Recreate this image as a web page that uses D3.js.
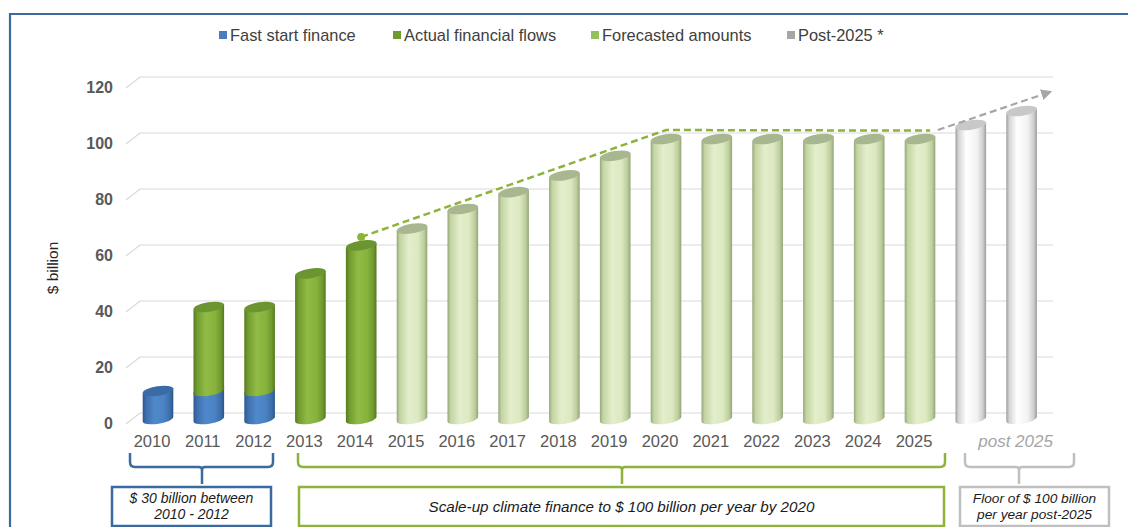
<!DOCTYPE html>
<html>
<head>
<meta charset="utf-8">
<script src="https://cdn.jsdelivr.net/npm/d3@7"></script>
<style>
  html, body { margin: 0; padding: 0; background: #fff; }
  svg { display: block; font-family: "Liberation Sans", Arial, sans-serif; }
</style>
</head>
<body>
<svg id="chart" width="1128" height="527"></svg>
<script>
// Climate finance path, $ billion per year
const categories = ["2010","2011","2012","2013","2014","2015","2016","2017","2018",
                    "2019","2020","2021","2022","2023","2024","2025","post-a","post-b"];
const yearLabels = ["2010","2011","2012","2013","2014","2015","2016","2017",
                    "2018","2019","2020","2021","2022","2023","2024","2025"];
const fastStartFinance = [10,10,10,0,0,0,0,0,0,0,0,0,0,0,0,0,0,0];
const actualFlows      = [0,30,30,52,62,0,0,0,0,0,0,0,0,0,0,0,0,0];
const forecastAmounts  = [0,0,0,0,0,68,75,81,87,94,100,100,100,100,100,100,0,0];
const post2025         = [0,0,0,0,0,0,0,0,0,0,0,0,0,0,0,0,105,110];
const yTicks = [0,20,40,60,80,100,120];
const legendLabels = ["Fast start finance","Actual financial flows","Forecasted amounts","Post-2025 *"];
// dashed trend: [category position, value]
const trendPath = [[4,65],[10,103.2],[15.2,103]];
const postTrendPath = [[15.35,103.2],[17.56,116.8]];

const svg = d3.select("#chart");
const defs = svg.append("defs");

const y = d3.scaleLinear().domain([0,120]).range([419, 83]);
const xPos = d3.scaleLinear().domain([0, categories.length - 1]).range([158, 1021.6]);
const x = d3.scalePoint().domain(categories).range([xPos(0), xPos(categories.length - 1)]);

// frame
svg.append("line").attr("x1",10).attr("x2",1128).attr("y1",14).attr("y2",14)
  .attr("stroke","#3a6a9e").attr("stroke-width",2.2);
svg.append("line").attr("x1",10).attr("x2",10).attr("y1",13).attr("y2",527)
  .attr("stroke","#3a6a9e").attr("stroke-width",2.2);

// gradients for the cylinders
function grad(id, stops) {
  const g = defs.append("linearGradient").attr("id", id)
    .attr("x1","0%").attr("x2","100%").attr("y1","0%").attr("y2","0%");
  stops.forEach(([o,c]) => g.append("stop").attr("offset", o).attr("stop-color", c));
}
grad("gBlue", [["0%","#2c5890"],["12%","#3e70ae"],["40%","#5089cb"],["70%","#4a82c2"],["90%","#3b6da9"],["100%","#2a548a"]]);
grad("gGreen", [["0%","#57791f"],["12%","#729c30"],["40%","#90bc45"],["70%","#87b33d"],["90%","#6f982d"],["100%","#55761e"]]);
grad("gLight", [["0%","#95a67a"],["10%","#c3d4a2"],["40%","#e3eecb"],["70%","#dce9c1"],["90%","#bccd9c"],["100%","#91a276"]]);
grad("gPost", [["0%","#9e9e9e"],["10%","#d4d4d4"],["35%","#ffffff"],["70%","#f2f2f2"],["90%","#cdcdcd"],["100%","#9a9a9a"]]);

// gridlines in 3D style: short diagonal at the front, flat line at the back
const gridG = svg.append("g");
yTicks.forEach(v => {
  const yb = y(v) - 6;
  gridG.append("path")
    .attr("d", `M126,${yb + 11} L140,${yb} L1053,${yb}`)
    .attr("fill","none").attr("stroke","#d9d9d9").attr("stroke-width",1.2);
});

// y axis labels
svg.append("g").selectAll("text").data(yTicks).join("text")
  .attr("x",113).attr("y", d => y(d) + 10)
  .attr("text-anchor","end")
  .attr("font-size",16).attr("font-weight","bold").attr("fill","#595959")
  .text(d => d);

svg.append("text")
  .attr("transform","translate(58,268) rotate(-90)")
  .attr("text-anchor","middle").attr("font-size",15.5).attr("fill","#262626")
  .text("$ billion");

// cylinder drawing
const a = 15.5, b = 4.8, rot = -9;
const ca = Math.cos(rot * Math.PI / 180), sa = Math.sin(rot * Math.PI / 180);
function cylinder(g, cx, v0, v1, fill, cap) {
  if (v1 <= v0) return;
  const yt = y(v1), yb = y(v0);
  const lx = cx - a * ca, ly = -a * sa, rx = cx + a * ca, ry = a * sa;
  g.append("path")
    .attr("d", `M${lx},${yt + ly} L${lx},${yb + ly} A${a},${b} ${rot} 0 0 ${rx},${yb + ry} L${rx},${yt + ry} Z`)
    .attr("fill", `url(#${fill})`);
  g.append("ellipse")
    .attr("cx", cx).attr("cy", yt).attr("rx", a).attr("ry", b)
    .attr("transform", `rotate(${rot},${cx},${yt})`)
    .attr("fill", cap);
}

const barsG = svg.append("g");
categories.forEach((c, i) => {
  const cx = x(c);
  cylinder(barsG, cx, 0, fastStartFinance[i], "gBlue", "#3a6ba6");
  cylinder(barsG, cx, fastStartFinance[i], fastStartFinance[i] + actualFlows[i], "gGreen", "#6b9530");
  cylinder(barsG, cx, 0, forecastAmounts[i], "gLight", "#a8b78f");
  cylinder(barsG, cx, 0, post2025[i], "gPost", "#c8c8c8");
});

// trend lines
const line = d3.line().x(d => xPos(d[0])).y(d => y(d[1]));
svg.append("path").attr("d", line(trendPath))
  .attr("fill","none").attr("stroke","#8db33a").attr("stroke-width",2.5)
  .attr("stroke-dasharray","7,4");
svg.append("circle").attr("cx", xPos(trendPath[0][0])).attr("cy", y(trendPath[0][1]))
  .attr("r",4).attr("fill","#8db33a");

defs.append("marker").attr("id","arrowGray").attr("viewBox","0 0 10 10")
  .attr("refX",8).attr("refY",5).attr("markerWidth",5).attr("markerHeight",5)
  .attr("orient","auto").attr("markerUnits","strokeWidth")
  .append("path").attr("d","M0,0 L10,5 L0,10 Z").attr("fill","#a6a6a6");
svg.append("path").attr("d", line(postTrendPath))
  .attr("fill","none").attr("stroke","#a6a6a6").attr("stroke-width",2.2)
  .attr("stroke-dasharray","7,4").attr("marker-end","url(#arrowGray)");

// category labels
svg.append("g").selectAll("text").data(yearLabels).join("text")
  .attr("x", d => x(d) - 6).attr("y", 447)
  .attr("text-anchor","middle").attr("font-size",16.5).attr("fill","#595959")
  .text(d => d);
svg.append("text").attr("x", x(categories[17]) - 6).attr("y", 447)
  .attr("text-anchor","middle").attr("font-size",17).attr("font-style","italic")
  .attr("fill","#a6a6a6").text("post 2025");

// legend
const legendColors = ["#4a7ebb","#6f9a2e","#92c05a","#a6a6a6"];
const legendSquareX = [219, 393, 591, 787];
const legG = svg.append("g");
legendLabels.forEach((t, i) => {
  legG.append("rect").attr("x", legendSquareX[i]).attr("y", 31).attr("width",8).attr("height",8)
    .attr("fill", legendColors[i]);
  legG.append("text").attr("x", legendSquareX[i] + 11).attr("y", 41)
    .attr("font-size",16.4).attr("fill","#404040").text(t);
});

// brackets and note boxes
function bracket(x1, x2, xm, color) {
  const t = 453, bl = 467, r = 5, s = 484;
  svg.append("path")
    .attr("d", `M${x1},${t} L${x1},${bl - r} Q${x1},${bl} ${x1 + r},${bl} L${xm - 3},${bl} Q${xm},${bl} ${xm},${bl + 3} L${xm},${s}
                M${xm},${bl + 3} Q${xm},${bl} ${xm + 3},${bl} L${x2 - r},${bl} Q${x2},${bl} ${x2},${bl - r} L${x2},${t}`)
    .attr("fill","none").attr("stroke", color).attr("stroke-width",2.5);
}
bracket(130, 273, 202, "#3a6a9e");
bracket(298, 945, 622, "#8db33a");
bracket(965, 1074, 1019, "#bfbfbf");

function box(x1, x2, color, lines, ys, size) {
  svg.append("rect").attr("x", x1).attr("y", 487).attr("width", x2 - x1).attr("height", 39)
    .attr("fill","#fff").attr("stroke", color).attr("stroke-width",2.5);
  lines.forEach((t, i) => {
    svg.append("text").attr("x", (x1 + x2) / 2).attr("y", ys[i])
      .attr("text-anchor","middle").attr("font-size", size).attr("font-style","italic")
      .attr("fill","#1a1a1a").text(t);
  });
}
box(112, 271, "#3a6a9e", ["$ 30 billion between", "2010 - 2012"], [503, 519], 14);
box(299, 944, "#8db33a", ["Scale-up climate finance to $ 100 billion per year by 2020"], [512], 15.2);
box(960, 1109, "#bfbfbf", ["Floor of $ 100 billion", "per year post-2025"], [503, 519], 13.7);
</script>
</body>
</html>
